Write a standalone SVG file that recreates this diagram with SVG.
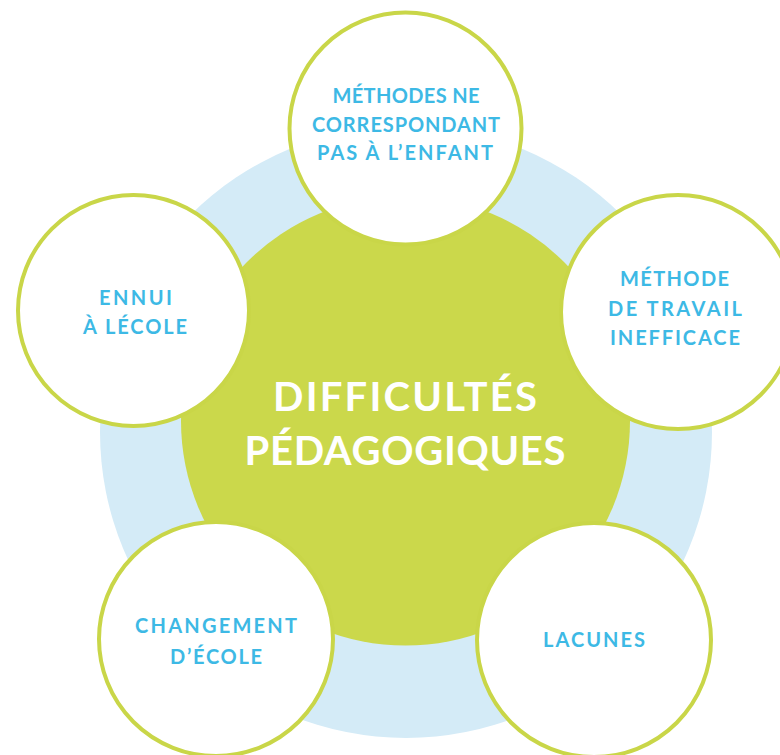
<svg xmlns="http://www.w3.org/2000/svg" width="780" height="755" viewBox="0 0 780 755">
<style>
.node{fill:#ffffff;stroke:#c9d648;stroke-width:4}
.lbl{font-family:Lato,"Open Sans",sans-serif;font-weight:700;font-size:20px;fill:#3db9e5;text-anchor:middle}
.ctr{font-family:Lato,"Open Sans",sans-serif;font-weight:700;font-size:40px;fill:#ffffff;text-anchor:middle}
</style>
<rect width="780" height="755" fill="#ffffff"/>
<g id="background">
<circle cx="406" cy="432" r="306" fill="#d4ebf7"/>
</g>
<g id="connectors"></g>
<g id="center">
<circle cx="405.5" cy="421" r="224.5" fill="#cbd84b"/>
<text class="ctr" x="405" y="411" textLength="264">DIFFICULTÉS</text>
<text class="ctr" x="405" y="465" textLength="321">PÉDAGOGIQUES</text>
</g>
<g id="node-top">
<circle class="node" cx="405.5" cy="128.5" r="116"/>
<text class="lbl" x="406" y="103" textLength="147">MÉTHODES NE</text>
<text class="lbl" x="406" y="132" textLength="188">CORRESPONDANT</text>
<text class="lbl" x="405" y="160" textLength="176">PAS À L’ENFANT</text>
</g>
<g id="node-right">
<circle class="node" cx="678" cy="312" r="117"/>
<text class="lbl" x="674.5" y="286" textLength="109">MÉTHODE</text>
<text class="lbl" x="675" y="316" textLength="134">DE TRAVAIL</text>
<text class="lbl" x="675" y="345" textLength="130">INEFFICACE</text>
</g>
<g id="node-left">
<circle class="node" cx="133.5" cy="310.5" r="115.5"/>
<text class="lbl" x="135.5" y="305" textLength="73">ENNUI</text>
<text class="lbl" x="135" y="334" textLength="104">À LÉCOLE</text>
</g>
<g id="node-bottom-left">
<circle class="node" cx="216" cy="639" r="117"/>
<text class="lbl" x="216" y="633" textLength="162">CHANGEMENT</text>
<text class="lbl" x="216" y="664" textLength="92">D’ÉCOLE</text>
</g>
<g id="node-bottom-right">
<circle class="node" cx="594" cy="640" r="117"/>
<text class="lbl" x="594" y="647" textLength="102">LACUNES</text>
</g>
</svg>
